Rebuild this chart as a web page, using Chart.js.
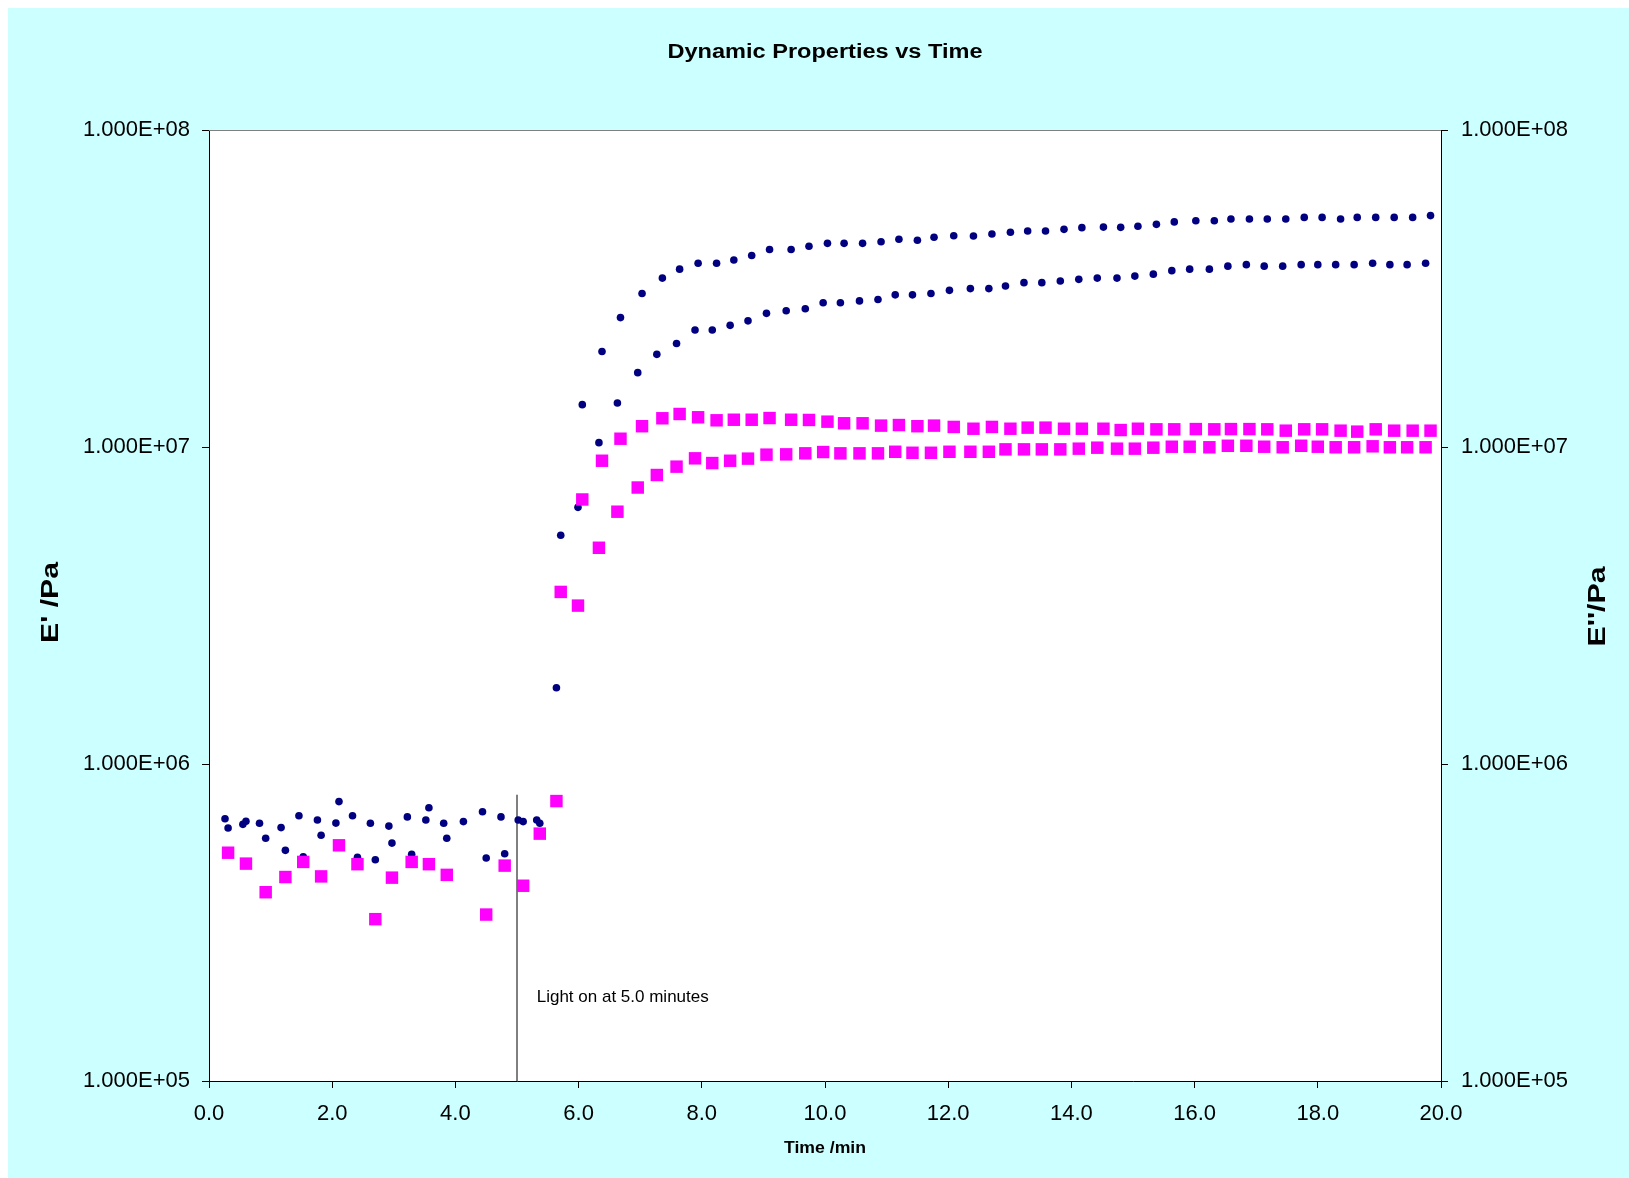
<!DOCTYPE html>
<html>
<head>
<meta charset="utf-8">
<title>Dynamic Properties vs Time</title>
<script src="https://cdn.jsdelivr.net/npm/chart.js@4.4.1/dist/chart.umd.min.js"></script>
<style>
  html, body { margin: 0; padding: 0; background: #ffffff; overflow: hidden; }
  canvas { display: block; }
</style>
</head>
<body>
<canvas id="dynChart" width="1629" height="1178"></canvas>
<script>
// Run A (upper curves) - time in minutes, E' and E'' in Pa
const timeA = [0.26, 0.55, 0.82, 1.17, 1.46, 1.76, 2.06, 2.33, 2.62, 2.92, 3.22, 3.52, 3.81, 4.13, 4.44, 4.74, 5.02, 5.32,
  5.71, 6.06, 6.38, 6.68, 7.03, 7.36, 7.64, 7.94, 8.24, 8.52, 8.81, 9.10, 9.45, 9.74,
  10.04, 10.31, 10.61, 10.91, 11.20, 11.50, 11.77, 12.09, 12.41, 12.71, 13.01, 13.29, 13.58, 13.88, 14.17, 14.52, 14.80, 15.08,
  15.38, 15.67, 16.02, 16.32, 16.59, 16.89, 17.18, 17.48, 17.78, 18.07, 18.37, 18.64, 18.94, 19.24, 19.54, 19.83];
const storageA = [6.72e5, 6.45e5, 6.50e5, 6.30e5, 6.87e5, 6.66e5, 6.51e5, 6.87e5, 6.50e5, 6.37e5, 6.81e5, 6.66e5, 6.50e5, 6.58e5, 7.07e5, 6.81e5, 6.66e5, 6.66e5,
  5.27e6, 1.36e7, 2.00e7, 2.56e7, 3.05e7, 3.41e7, 3.64e7, 3.80e7, 3.80e7, 3.89e7, 4.02e7, 4.20e7, 4.20e7, 4.30e7,
  4.39e7, 4.39e7, 4.39e7, 4.44e7, 4.52e7, 4.49e7, 4.59e7, 4.64e7, 4.63e7, 4.70e7, 4.76e7, 4.80e7, 4.80e7, 4.86e7, 4.92e7, 4.94e7, 4.93e7, 4.97e7,
  5.04e7, 5.13e7, 5.17e7, 5.17e7, 5.24e7, 5.24e7, 5.24e7, 5.24e7, 5.30e7, 5.30e7, 5.24e7, 5.30e7, 5.30e7, 5.30e7, 5.30e7, 5.37e7];
const lossA = [null, null, null, null, null, null, null, null, null, null, null, null, null, null, null, null, null, null,
  3.49e6, 6.83e6, 9.05e6, 1.062e7, 1.163e7, 1.232e7, 1.271e7, 1.241e7, 1.214e7, 1.219e7, 1.219e7, 1.234e7, 1.219e7, 1.217e7,
  1.202e7, 1.188e7, 1.188e7, 1.168e7, 1.173e7, 1.163e7, 1.168e7, 1.157e7, 1.142e7, 1.157e7, 1.142e7, 1.151e7, 1.151e7, 1.142e7, 1.142e7, 1.142e7, 1.131e7, 1.142e7,
  1.137e7, 1.137e7, 1.139e7, 1.137e7, 1.139e7, 1.139e7, 1.137e7, 1.126e7, 1.137e7, 1.137e7, 1.126e7, 1.118e7, 1.137e7, 1.126e7, 1.126e7, 1.126e7];

// Run B (lower curves)
const timeB = [0.31, 0.60, 0.92, 1.24, 1.53, 1.82, 2.11, 2.41, 2.70, 2.97, 3.29, 3.57, 3.86, 4.50, 4.80, 5.10, 5.37,
  5.64, 5.99, 6.33, 6.63, 6.96, 7.27, 7.59, 7.89, 8.17, 8.46, 8.75, 9.05, 9.37, 9.68, 9.97,
  10.25, 10.56, 10.86, 11.14, 11.42, 11.72, 12.02, 12.36, 12.66, 12.93, 13.23, 13.52, 13.82, 14.12, 14.42, 14.74, 15.03,
  15.33, 15.63, 15.92, 16.24, 16.54, 16.84, 17.13, 17.43, 17.73, 18.00, 18.29, 18.59, 18.89, 19.17, 19.45, 19.75];
const storageB = [6.28e5, 6.60e5, 5.83e5, 5.34e5, 5.10e5, 5.96e5, 7.61e5, 5.08e5, 4.99e5, 5.63e5, 5.19e5, 7.28e5, 5.83e5, 5.05e5, 5.21e5, 6.58e5, 6.50e5,
  1.74e6, 6.45e6, 1.032e7, 1.376e7, 1.716e7, 1.96e7, 2.12e7, 2.34e7, 2.34e7, 2.42e7, 2.50e7, 2.64e7, 2.69e7, 2.73e7, 2.85e7,
  2.85e7, 2.89e7, 2.92e7, 3.02e7, 3.02e7, 3.05e7, 3.12e7, 3.16e7, 3.16e7, 3.22e7, 3.30e7, 3.30e7, 3.34e7, 3.38e7, 3.41e7, 3.41e7, 3.46e7,
  3.51e7, 3.60e7, 3.64e7, 3.64e7, 3.72e7, 3.76e7, 3.72e7, 3.72e7, 3.76e7, 3.76e7, 3.76e7, 3.76e7, 3.80e7, 3.76e7, 3.76e7, 3.80e7];
const lossB = [5.25e5, 4.85e5, 3.94e5, 4.40e5, 4.91e5, 4.42e5, 5.54e5, 4.83e5, 3.24e5, 4.38e5, 4.91e5, 4.83e5, 4.47e5, 3.35e5, 4.78e5, 4.13e5, 6.03e5,
  7.64e5, 3.16e6, 4.81e6, 6.25e6, 7.45e6, 8.16e6, 8.67e6, 9.21e6, 8.90e6, 9.05e6, 9.19e6, 9.46e6, 9.48e6, 9.55e6, 9.64e6,
  9.55e6, 9.55e6, 9.55e6, 9.66e6, 9.59e6, 9.59e6, 9.66e6, 9.66e6, 9.66e6, 9.83e6, 9.83e6, 9.83e6, 9.83e6, 9.88e6, 9.95e6, 9.88e6, 9.88e6,
  9.95e6, 1.002e7, 1.002e7, 9.98e6, 1.009e7, 1.009e7, 1.002e7, 9.98e6, 1.009e7, 1.002e7, 9.98e6, 9.98e6, 1.005e7, 9.98e6, 9.98e6, 9.98e6];

// Ejes
const xTickValues = [0, 2, 4, 6, 8, 10, 12, 14, 16, 18, 20];
const yTickValues = [1e5, 1e6, 1e7, 1e8];
const yTickLabels = ['1.000E+05', '1.000E+06', '1.000E+07', '1.000E+08'];

// Marca de encendido de la luz
const lightOnTime = 5.0;
const lightLineRange = [1e5, 8e5];
const noteText = 'Light on at 5.0 minutes';
const notePos = { x: 5.32, y: 1.83e5 };

const FONT = '"Liberation Sans", Arial, Helvetica, sans-serif';

function toPoints(times, values) {
    return times.map((t, i) => ({ x: t, y: values[i] })).filter(p => p.y !== null);
}

function yLabel(value) {
    const i = yTickValues.findIndex(v => Math.abs(v - value) < v * 1e-6);
    return i >= 0 ? yTickLabels[i] : '';
}

// Texto escalado horizontalmente para igualar el ancho del original
function fitText(ctx, text, x, y, font, width, angle) {
    ctx.save();
    ctx.font = font;
    ctx.translate(x, y);
    ctx.rotate(angle);
    const w = ctx.measureText(text).width;
    ctx.scale(width / w, 1);
    ctx.textAlign = 'center';
    ctx.textBaseline = 'middle';
    ctx.fillStyle = '#000';
    ctx.fillText(text, 0, 0);
    ctx.restore();
}

const decorPlugin = {
    id: 'decor',
    beforeDraw(chart) {
        const { ctx, width, height, chartArea: a } = chart;
        ctx.save();
        ctx.fillStyle = '#ffffff';
        ctx.fillRect(0, 0, width, height);
        ctx.fillStyle = '#ccffff';
        ctx.fillRect(8, 8, width - 8, height - 8);
        ctx.fillStyle = '#ffffff';
        ctx.fillRect(a.left, a.top, a.right - a.left, a.bottom - a.top);
        ctx.restore();
    },
    afterDraw(chart) {
        const { ctx, chartArea: a, scales } = chart;
        ctx.save();
        // borde superior del área de trazado
        ctx.strokeStyle = '#808080';
        ctx.lineWidth = 1;
        ctx.beginPath();
        ctx.moveTo(a.left, a.top + 0.5);
        ctx.lineTo(a.right, a.top + 0.5);
        ctx.stroke();

        // nota
        ctx.font = '17px ' + FONT;
        ctx.fillStyle = '#000';
        ctx.textAlign = 'left';
        ctx.textBaseline = 'middle';
        ctx.fillText(noteText, scales.x.getPixelForValue(notePos.x), scales.y.getPixelForValue(notePos.y));
        ctx.restore();

        const cx = (a.left + a.right) / 2;
        const cy = (a.top + a.bottom) / 2;
        fitText(ctx, 'Dynamic Properties vs Time', cx, 52, 'bold 20px ' + FONT, 315, 0);
        fitText(ctx, "E' /Pa", 52, cy - 3, 'bold 23px ' + FONT, 81, -Math.PI / 2);
        fitText(ctx, "E''/Pa", 1599, cy + 1, 'bold 23px ' + FONT, 80, -Math.PI / 2);
        fitText(ctx, 'Time /min', cx, 1149, 'bold 16px ' + FONT, 82, 0);
    }
};

const axisGrid = { display: true, drawOnChartArea: false, drawTicks: true, tickLength: 7, color: '#000' };
const axisBorder = { display: true, color: '#000', width: 1 };

new Chart(document.getElementById('dynChart').getContext('2d'), {
    type: 'scatter',
    data: {
        datasets: [
            {
                label: "E'' run A",
                data: toPoints(timeA, lossA),
                yAxisID: 'y2',
                pointStyle: 'rect',
                pointRadius: 8.8,
                pointBorderWidth: 0,
                backgroundColor: '#ff00ff',
                borderColor: '#ff00ff'
            },
            {
                label: "E'' run B",
                data: toPoints(timeB, lossB),
                yAxisID: 'y2',
                pointStyle: 'rect',
                pointRadius: 8.8,
                pointBorderWidth: 0,
                backgroundColor: '#ff00ff',
                borderColor: '#ff00ff'
            },
            {
                label: "E' run A",
                data: toPoints(timeA, storageA),
                yAxisID: 'y',
                pointStyle: 'circle',
                pointRadius: 3.8,
                pointBorderWidth: 0,
                backgroundColor: '#000080',
                borderColor: '#000080'
            },
            {
                label: "E' run B",
                data: toPoints(timeB, storageB),
                yAxisID: 'y',
                pointStyle: 'circle',
                pointRadius: 3.8,
                pointBorderWidth: 0,
                backgroundColor: '#000080',
                borderColor: '#000080'
            },
            {
                label: 'Light on',
                data: lightLineRange.map(v => ({ x: lightOnTime, y: v })),
                yAxisID: 'y',
                showLine: true,
                pointRadius: 0,
                borderColor: '#000',
                borderWidth: 1
            }
        ]
    },
    options: {
        responsive: false,
        devicePixelRatio: 1,
        animation: false,
        layout: { padding: { top: 130, left: 0, right: 0, bottom: 0 } },
        plugins: {
            legend: { display: false },
            title: { display: false },
            tooltip: { enabled: false }
        },
        scales: {
            x: {
                type: 'linear',
                position: 'bottom',
                min: 0,
                max: 20,
                afterBuildTicks: scale => { scale.ticks = xTickValues.map(v => ({ value: v })); },
                afterFit: scale => { scale.height = 97; },
                grid: axisGrid,
                border: axisBorder,
                ticks: {
                    padding: 13,
                    maxRotation: 0,
                    color: '#000',
                    font: { family: FONT, size: 22 },
                    callback: v => Number(v).toFixed(1)
                }
            },
            y: {
                type: 'logarithmic',
                position: 'left',
                min: 1e5,
                max: 1e8,
                afterBuildTicks: scale => { scale.ticks = yTickValues.map(v => ({ value: v })); },
                afterFit: scale => { scale.width = 209; },
                grid: axisGrid,
                border: axisBorder,
                ticks: {
                    padding: 12,
                    color: '#000',
                    font: { family: FONT, size: 22 },
                    callback: v => yLabel(v)
                }
            },
            y2: {
                type: 'logarithmic',
                position: 'right',
                min: 1e5,
                max: 1e8,
                afterBuildTicks: scale => { scale.ticks = yTickValues.map(v => ({ value: v })); },
                afterFit: scale => { scale.width = 188; },
                grid: axisGrid,
                border: axisBorder,
                ticks: {
                    padding: 13,
                    color: '#000',
                    font: { family: FONT, size: 22 },
                    callback: v => yLabel(v)
                }
            }
        }
    },
    plugins: [decorPlugin]
});
</script>
</body>
</html>
